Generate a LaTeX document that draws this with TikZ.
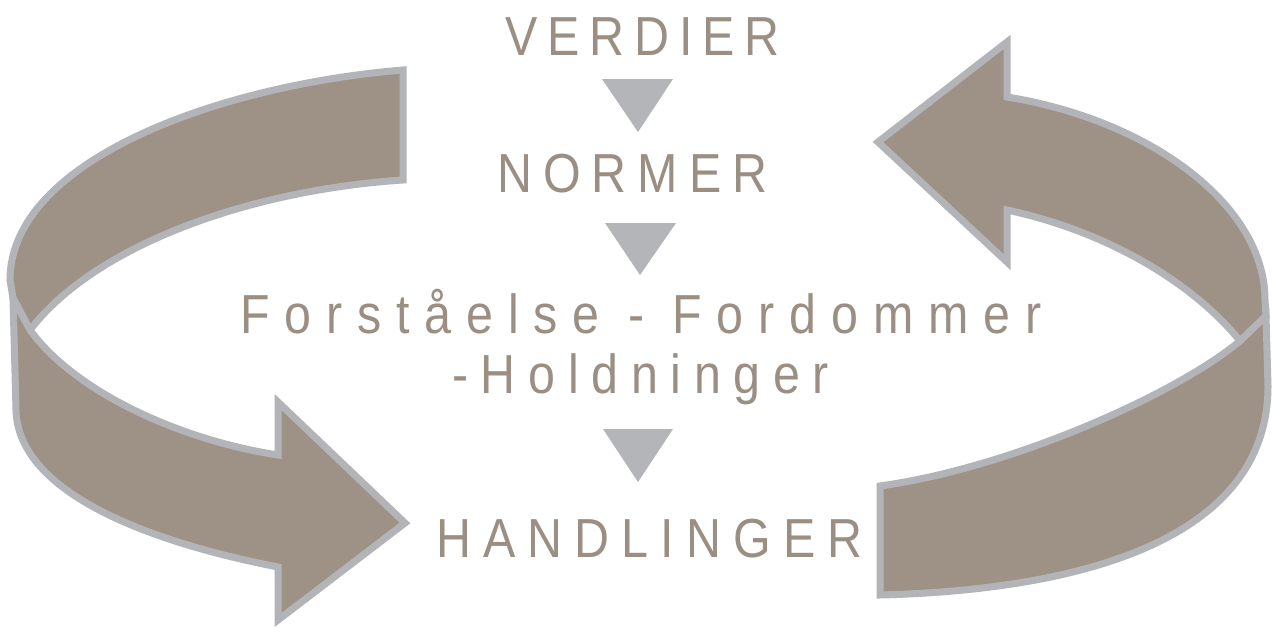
\documentclass[tikz,border=0pt]{standalone}
\usepackage{fontspec}
\setmainfont{Liberation Sans}[FakeStretch=0.88]
\definecolor{bandfill}{RGB}{158,146,134}
\definecolor{bandline}{RGB}{179,180,184}
\definecolor{trifill}{RGB}{180,181,185}
\definecolor{txt}{RGB}{155,143,131}
\begin{document}
\begin{tikzpicture}[x=1pt,y=-1pt,
  band/.style={fill=bandfill,draw=bandline,line width=7pt,line join=miter,miter limit=10},
  tri/.style={fill=trifill},
  lbl/.style={text=txt,inner sep=0pt,anchor=base west,font=\fontsize{55}{60}\selectfont}]
\useasboundingbox (0,0) rectangle (1275,632);
\fill[white] (0,0) rectangle (1275,632);

% ---- left arrow: back band
\draw[band] (403,70) .. controls (220,85) and (10,160) .. (10,280)
  -- (13,298) -- (30,330)
  .. controls (95,245) and (250,190) .. (403,180) -- cycle;
% ---- left arrow: front band with head
\draw[band] (13,298) -- (16,410)
  .. controls (18,490) and (140,540) .. (278,567)
  -- (278,620) -- (405,523) -- (278,402) -- (278,455)
  .. controls (180,440) and (75,392) .. (30,330) -- cycle;

% ---- right arrow: back band with head
\draw[band] (1007,97) -- (1007,42) -- (878,142) -- (1007,262) -- (1007,210)
  .. controls (1110,232) and (1195,285) .. (1240,341)
  -- (1266,316) -- (1265,300)
  .. controls (1265,205) and (1150,120) .. (1007,97) -- cycle;
% ---- right arrow: front band
\draw[band] (1240,341) -- (1266,316) -- (1268,386)
  .. controls (1268,540) and (1080,590) .. (880,595)
  -- (880,486)
  .. controls (1010,468) and (1175,395) .. (1240,341) -- cycle;

% ---- texts
\node[lbl] (verdier) at (505,55) {\addfontfeature{LetterSpace=18}VERDIER};
\node[lbl] (normer) at (497,192) {\addfontfeature{LetterSpace=20}NORMER};
\node[lbl] (forst) at (240,333) {\addfontfeature{LetterSpace=27}Forståelse - Fordommer};
\node[lbl] (hold) at (452,393) {\addfontfeature{LetterSpace=23}-Holdninger};
\node[lbl] (handl) at (436,557) {\addfontfeature{LetterSpace=22}HANDLINGER};

% ---- triangles
\fill[tri] (602,79) -- (673,79) -- (638,132) -- cycle;
\fill[tri] (605,223) -- (676,223) -- (640,275) -- cycle;
\fill[tri] (603,429) -- (673,429) -- (638,482) -- cycle;
\end{tikzpicture}
\end{document}
